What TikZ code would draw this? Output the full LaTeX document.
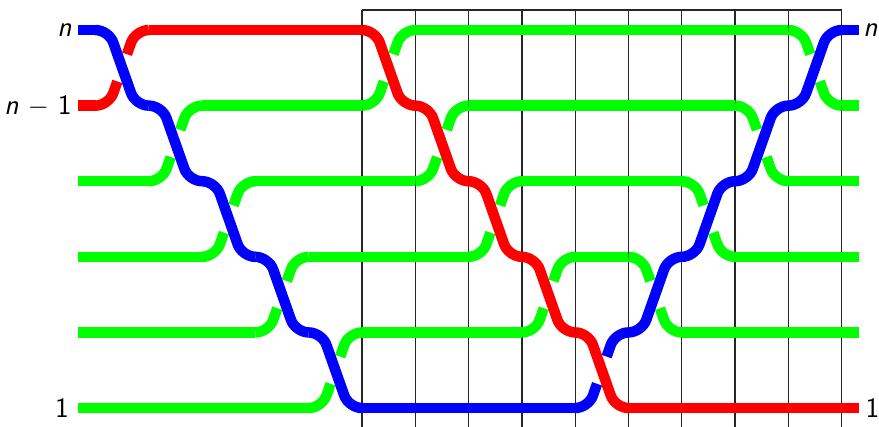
\documentclass[tikz,border=0pt]{standalone}
\usepackage{fontspec}
\begin{document}
\begin{tikzpicture}[x=1cm,y=1.4184cm]
\tikzset{
  wire/.style={line width=5.6pt, rounded corners=0.25cm},
  gridline/.style={line width=0.7pt, black!85},
  lab/.style={inner sep=0pt, font=\fontsize{15}{18}\selectfont\sffamily}
}
\definecolor{wred}{RGB}{255,0,0}
\definecolor{wblue}{RGB}{0,0,255}
\definecolor{wgreen}{RGB}{0,255,0}
\newcommand{\xover}[4]{\draw[wire,#1] (#2,#3) -- ({#2+0.25},#3) -- ({#2+0.75},#4) -- ({#2+1},#4);}
\newcommand{\xunder}[4]{%
  \draw[wire,#1] (#2,#3) -- ({#2+0.25},#3) -- ({#2+0.41},{#3+0.32*(#4-#3)});
  \draw[wire,#1] ({#2+0.59},{#3+0.68*(#4-#3)}) -- ({#2+0.75},#4) -- ({#2+1},#4);}
\useasboundingbox (-6.792,-0.2383) rectangle (9.700,5.3973);
% grid
\foreach \i in {0,...,9} \draw[gridline] (\i,-0.3) -- (\i,5.266);
\draw[gridline] (0,5.266) -- (9,5.266);
% flats
\draw[wire,wblue] (-5.33,5) -- (-5,5);
\draw[wire,wblue] (0,0) -- (4,0);
\draw[wire,wblue] (9,5) -- (9.33,5);
\draw[wire,wred] (-5.33,4) -- (-5,4);
\draw[wire,wred] (-4,5) -- (0,5);
\draw[wire,wred] (5,0) -- (9.33,0);
\draw[wire,wgreen] (-5.33,3) -- (-4,3);
\draw[wire,wgreen] (-3,4) -- (0,4);
\draw[wire,wgreen] (1,5) -- (8,5);
\draw[wire,wgreen] (9,4) -- (9.33,4);
\draw[wire,wgreen] (-5.33,2) -- (-3,2);
\draw[wire,wgreen] (-2,3) -- (1,3);
\draw[wire,wgreen] (2,4) -- (7,4);
\draw[wire,wgreen] (8,3) -- (9.33,3);
\draw[wire,wgreen] (-5.33,1) -- (-2,1);
\draw[wire,wgreen] (-1,2) -- (2,2);
\draw[wire,wgreen] (3,3) -- (6,3);
\draw[wire,wgreen] (7,2) -- (9.33,2);
\draw[wire,wgreen] (-5.33,0) -- (-1,0);
\draw[wire,wgreen] (0,1) -- (3,1);
\draw[wire,wgreen] (4,2) -- (5,2);
\draw[wire,wgreen] (6,1) -- (9.33,1);
% under strands
\xunder{wred}{-5}{4}{5}
\xunder{wblue}{4}{0}{1}
\xunder{wgreen}{-4}{3}{4}
\xunder{wgreen}{0}{4}{5}
\xunder{wgreen}{8}{5}{4}
\xunder{wgreen}{-3}{2}{3}
\xunder{wgreen}{1}{3}{4}
\xunder{wgreen}{7}{4}{3}
\xunder{wgreen}{-2}{1}{2}
\xunder{wgreen}{2}{2}{3}
\xunder{wgreen}{6}{3}{2}
\xunder{wgreen}{-1}{0}{1}
\xunder{wgreen}{3}{1}{2}
\xunder{wgreen}{5}{2}{1}
% over strands
\xover{wblue}{-5}{5}{4}
\xover{wblue}{-4}{4}{3}
\xover{wblue}{-3}{3}{2}
\xover{wblue}{-2}{2}{1}
\xover{wblue}{-1}{1}{0}
\xover{wblue}{5}{1}{2}
\xover{wblue}{6}{2}{3}
\xover{wblue}{7}{3}{4}
\xover{wblue}{8}{4}{5}
\xover{wred}{0}{5}{4}
\xover{wred}{1}{4}{3}
\xover{wred}{2}{3}{2}
\xover{wred}{3}{2}{1}
\xover{wred}{4}{1}{0}
% labels
\node[lab,anchor=east] (ln) at (-5.44,5) {\textit{n}};
\node[lab,anchor=east] (lnm) at (-5.44,4) {\textit{n} $-$ 1};
\node[lab,anchor=east] (l1) at (-5.49,0) {1};
\node[lab,anchor=west] (rn) at (9.40,5) {\textit{n}};
\node[lab,anchor=west] (r1) at (9.44,0) {1};
\end{tikzpicture}
\end{document}
